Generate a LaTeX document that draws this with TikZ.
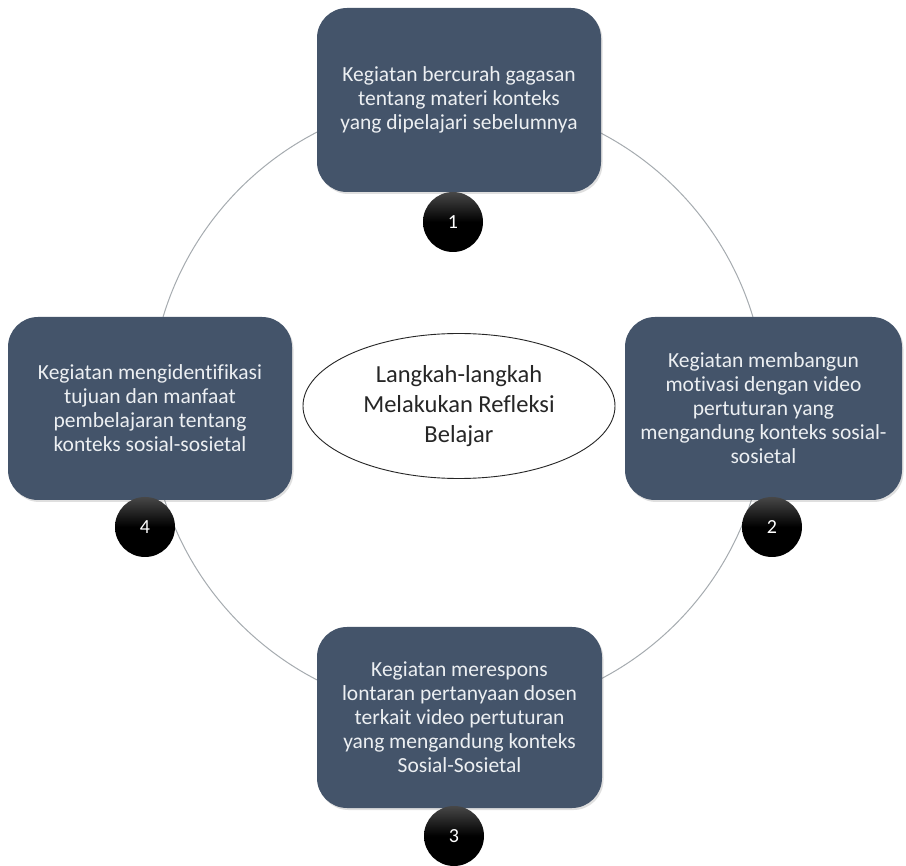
\documentclass[tikz,border=0pt]{standalone}
\usepackage{fontspec}
\setmainfont{Carlito}[Ligatures=NoCommon]
\usetikzlibrary{shapes.geometric,shadows}
\definecolor{boxfill}{RGB}{68,84,106}
\definecolor{boxtext}{RGB}{236,239,242}
\definecolor{ringline}{RGB}{166,172,176}
\begin{document}
\begin{tikzpicture}[x=1pt,y=-1pt,
  stepbox/.style={fill=boxfill, rounded corners=30pt, minimum width=284pt,
    minimum height=184pt, inner sep=0pt, align=center, text=boxtext,
    font=\fontsize{21.5}{24}\selectfont,
    drop shadow={opacity=0.25, shadow xshift=1.5pt, shadow yshift=-2pt}},
  badge/.style={circle, minimum size=60pt, inner sep=0pt, text=white,
    top color=black!72, bottom color=black, middle color=black,
    font=\fontsize{20}{24}\selectfont},
  hub/.style={ellipse, draw=black!85, line width=0.9pt, fill=white,
    minimum width=312pt, minimum height=145pt, inner sep=0pt, align=center,
    text=black!85, font=\fontsize{24.5}{30}\selectfont},
  ring/.style={draw=ringline, line width=1pt}]
\useasboundingbox (0,0) rectangle (906,866);
\fill[white] (0,0) rectangle (906,866);

% cycle ring behind everything
\coordinate (ringc) at (458,406);
\draw[ring] (ringc) circle[radius=308];

% centre ellipse
\node[hub] (title) at (459,406) {Langkah-langkah\\Melakukan Refleksi\\Belajar};

% step boxes
\node[stepbox] (s1) at (459,100) {Kegiatan bercurah gagasan\\tentang materi konteks\\yang dipelajari sebelumnya};
\node[stepbox, minimum width=277pt, minimum height=183pt] (s2) at (763.5,408.5)
  {Kegiatan membangun\\motivasi dengan video\\pertuturan yang\\mengandung konteks sosial-\\sosietal};
\node[stepbox, minimum width=285pt, minimum height=181pt] (s3) at (459.5,717.5)
  {Kegiatan merespons\\lontaran pertanyaan dosen\\terkait video pertuturan\\yang mengandung konteks\\Sosial-Sosietal};
\node[stepbox, minimum height=183pt] (s4) at (150,408.5)
  {Kegiatan mengidentifikasi\\tujuan dan manfaat\\pembelajaran tentang\\konteks sosial-sosietal};

% numbered badges
\node[badge] (b1) at (453,222) {1};
\node[badge] (b2) at (772,527) {2};
\node[badge] (b3) at (454,836) {3};
\node[badge] (b4) at (145,527) {4};
\end{tikzpicture}
\end{document}
